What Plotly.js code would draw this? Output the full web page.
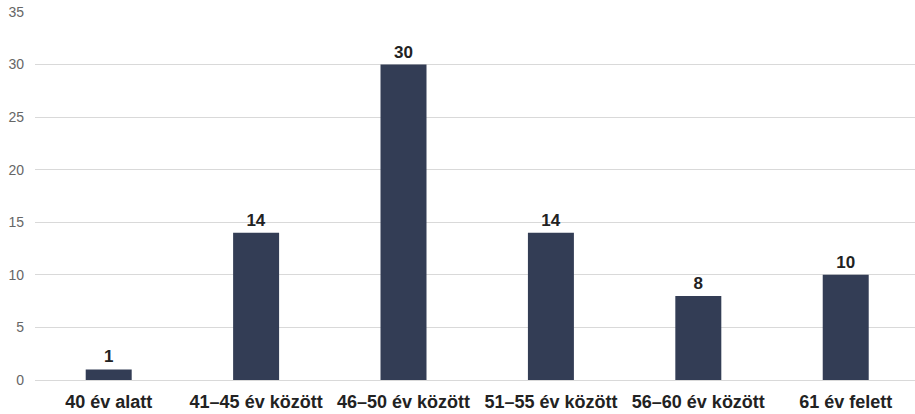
<!DOCTYPE html>
<html>
<head>
<meta charset="utf-8">
<script src="https://cdn.plot.ly/plotly-3.0.1.min.js"></script>
<style>
  html, body { margin: 0; padding: 0; background: #fff; }
  #chart { width: 915px; height: 414px; }
</style>
</head>
<body>
<div id="chart"></div>
<script>
// age groups and counts
const ageGroups = ['40 év alatt', '41–45 év között', '46–50 év között', '51–55 év között', '56–60 év között', '61 év felett'];
const counts = [1, 14, 30, 14, 8, 10];
const yTicks = [0, 5, 10, 15, 20, 25, 30, 35];

const barTrace = {
    x: ageGroups,
    y: counts,
    type: 'bar',
    marker: { color: '#333d55' },
    text: counts.map(String),
    textposition: 'outside',
    cliponaxis: false,
    textfont: { family: 'Liberation Sans, Arial, sans-serif', size: 17, color: '#222', weight: 'bold' },
    hoverinfo: 'x+y'
};

const chartLayout = {
    width: 915,
    height: 414,
    margin: { l: 35, r: 0, t: 12, b: 34 },
    paper_bgcolor: '#fff',
    plot_bgcolor: '#fff',
    bargap: 0.688,
    showlegend: false,
    font: { family: 'Liberation Sans, Arial, sans-serif' },
    xaxis: {
        type: 'category',
        range: [-0.5, 5.47],
        showgrid: false,
        showline: false,
        zeroline: false,
        ticks: '',
        ticklabelstandoff: 9,
        tickfont: { size: 18, color: '#222', weight: 'bold' }
    },
    yaxis: {
        range: [0, 35],
        tickvals: yTicks,
        showgrid: true,
        gridcolor: '#d9d9d9',
        gridwidth: 1,
        zeroline: true,
        zerolinecolor: '#d9d9d9',
        showline: false,
        ticks: '',
        ticklabelstandoff: 10,
        tickfont: { size: 14, color: '#666' }
    }
};

Plotly.newPlot('chart', [barTrace], chartLayout, { displayModeBar: false, staticPlot: true });
</script>
</body>
</html>
